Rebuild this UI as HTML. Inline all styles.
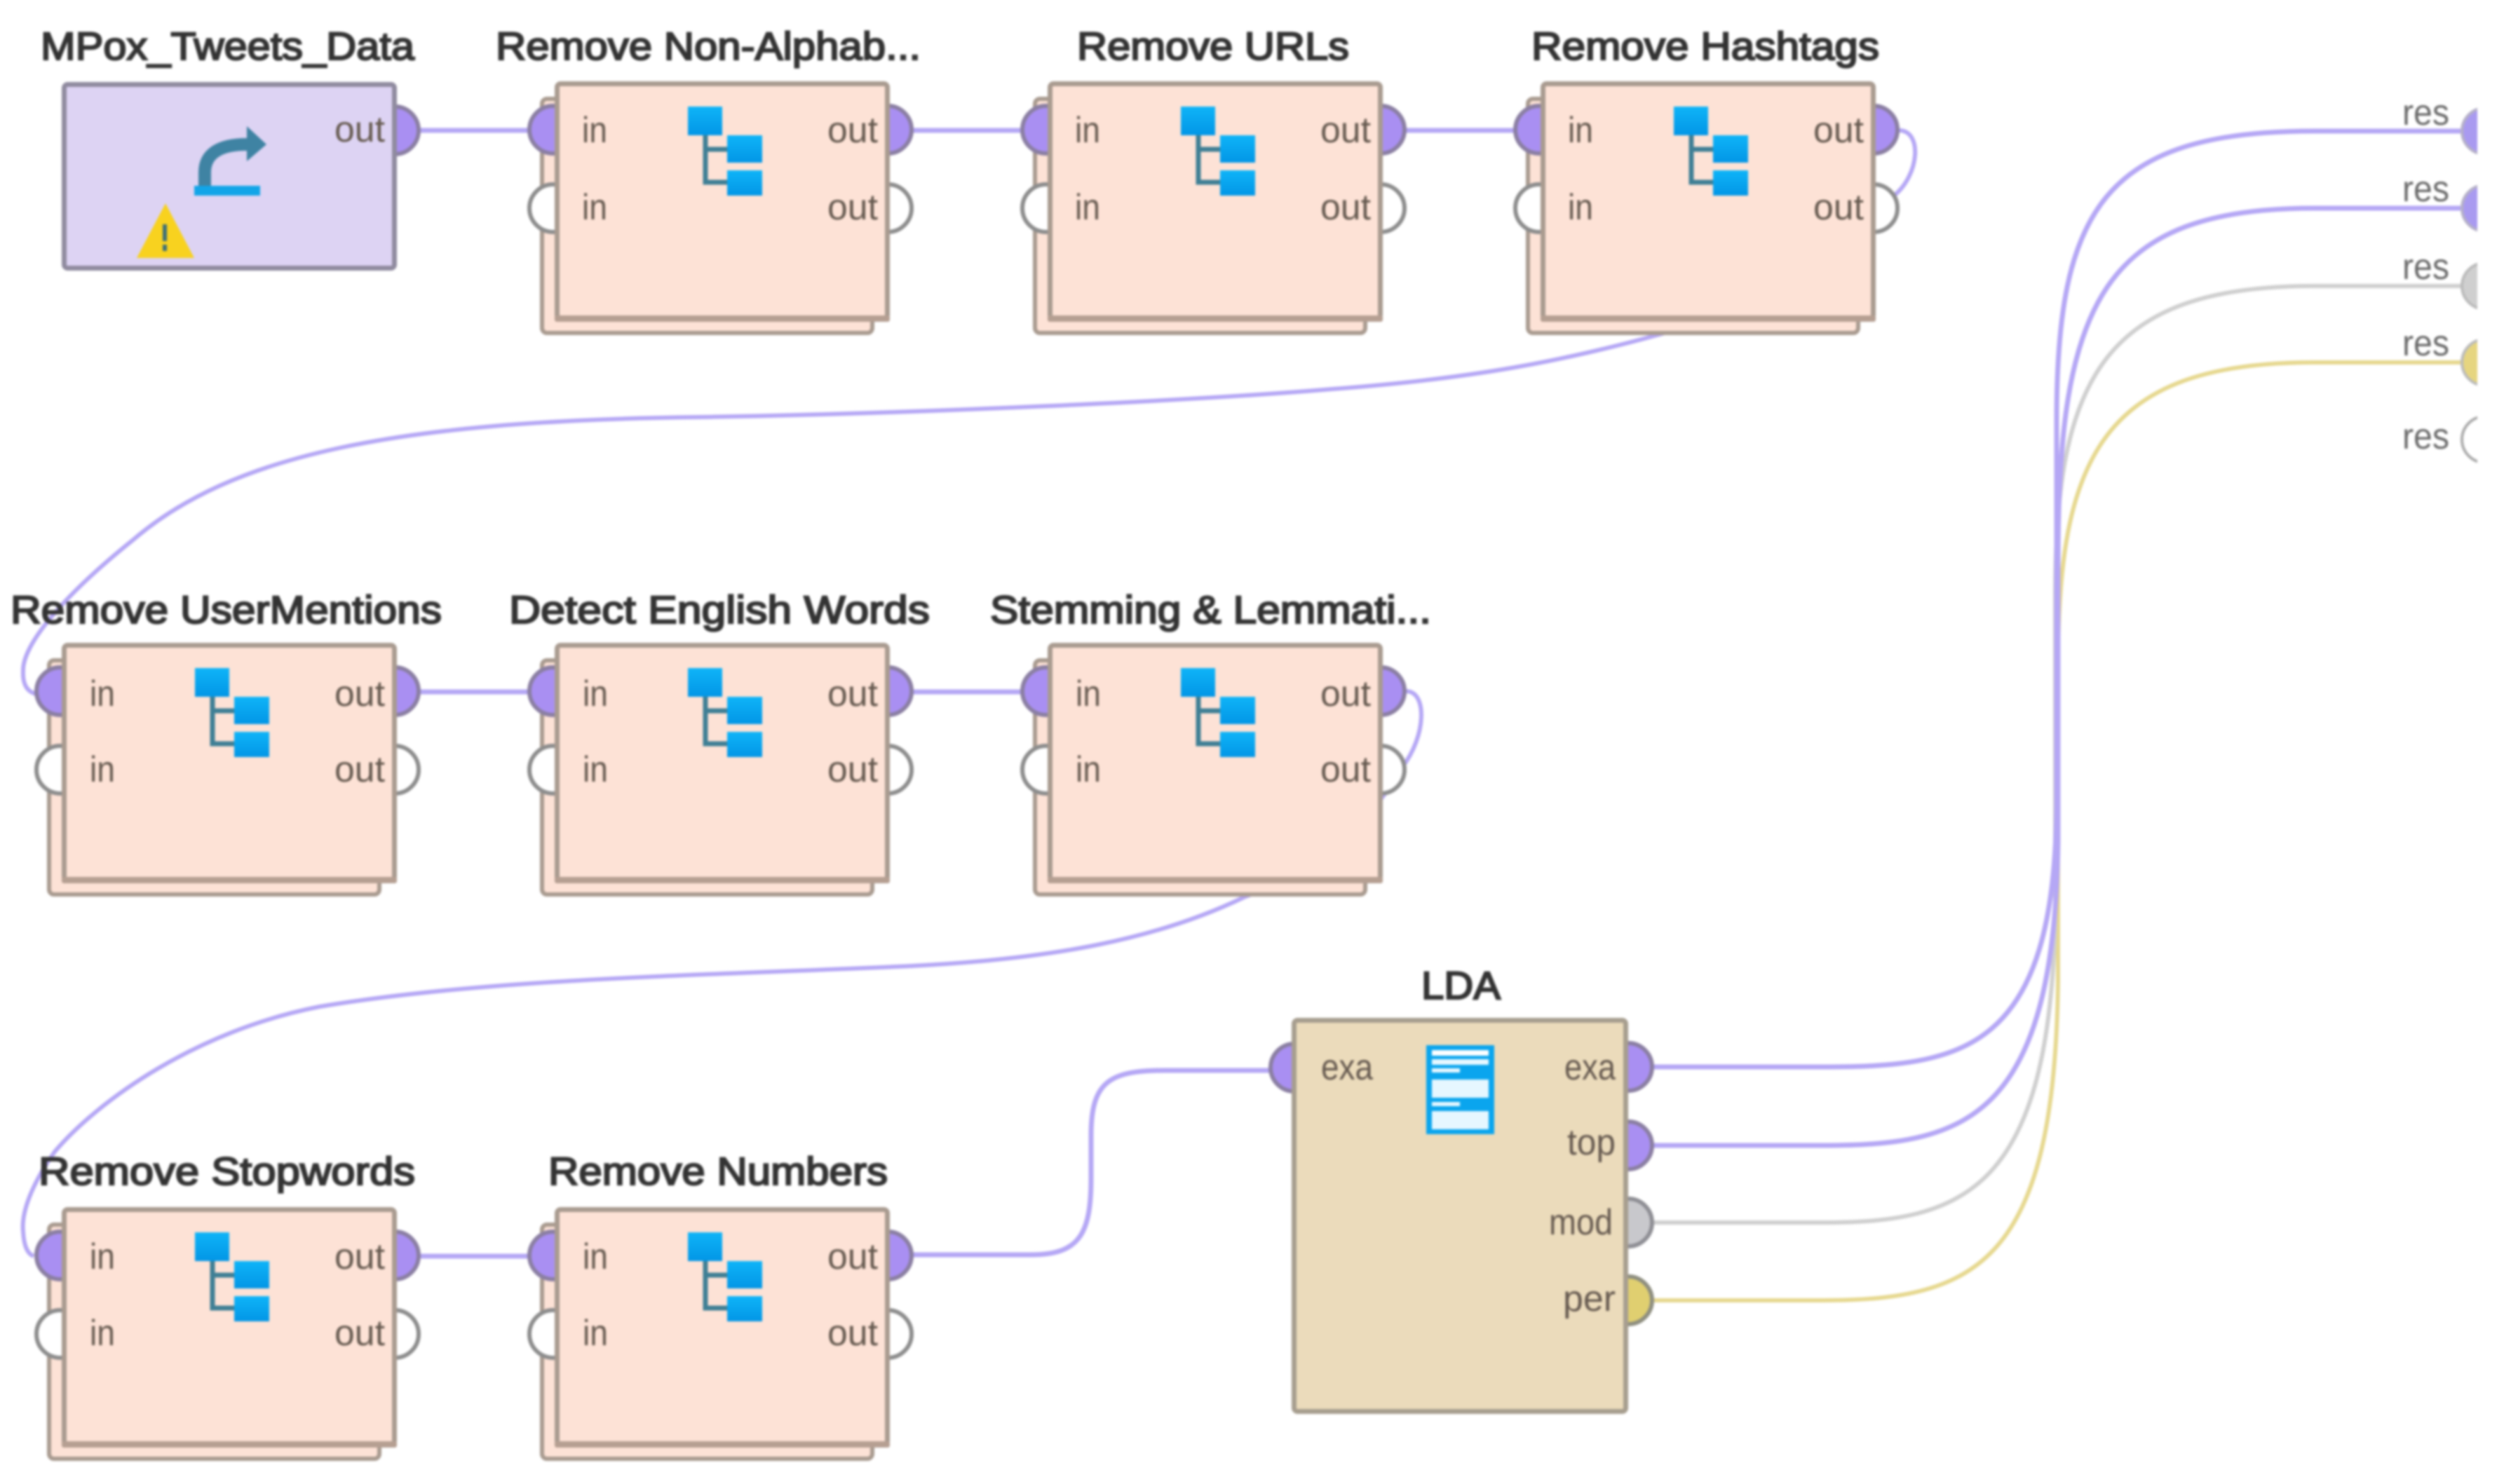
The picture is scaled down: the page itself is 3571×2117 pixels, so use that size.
<!DOCTYPE html>
<html lang="en">
<head>
<meta charset="utf-8">
<title>MPox Tweets LDA process</title>
<style>
html,body{margin:0;padding:0;background:#fff;width:3571px;height:2117px;overflow:hidden}
svg{display:block;filter:blur(1.5px)}
text{font-family:"Liberation Sans",sans-serif}
.t{font-size:56px;fill:#333;stroke:#333;stroke-width:2.3}
.l{font-size:52px;fill:#665a50}
.r{font-size:52px;fill:#6a6a6a}
.c{fill:none;stroke:#b5a7f5;stroke-width:7}
</style>
</head>
<body>
<svg xmlns="http://www.w3.org/2000/svg" width="3571" height="2117" viewBox="0 0 3571 2117">
<defs>
<linearGradient id="b" x1="0" y1="0" x2="0" y2="1"><stop offset="0" stop-color="#0fb4f8"/><stop offset="1" stop-color="#0296e6"/></linearGradient>
<g id="tree">
<path d="M215 70V144H252M215 97H252" fill="none" stroke="#3f7f95" stroke-width="7"/>
<rect x="190" y="36" width="49" height="41" fill="url(#b)"/>
<rect x="246" y="77" width="50" height="39" fill="url(#b)"/>
<rect x="246" y="127" width="50" height="36" fill="url(#b)"/>
</g>
<g id="op">
<rect x="-18" y="25" width="471" height="334" rx="7" fill="#fde2d6" stroke="#a99b90" stroke-width="6"/>
<circle cx="-2" cy="69" r="34" fill="#a98ff2" stroke="#8b7fa3" stroke-width="6"/>
<circle cx="-2" cy="181" r="34" fill="#fff" stroke="#8d8d8d" stroke-width="6"/>
<circle cx="475" cy="69" r="34" fill="#a98ff2" stroke="#8b7fa3" stroke-width="6"/>
<circle cx="475" cy="181" r="34" fill="#fff" stroke="#8d8d8d" stroke-width="6"/>
<rect x="3.5" y="3.5" width="471" height="335" rx="5" fill="#fde2d6" stroke="#a99b90" stroke-width="7"/>
<rect x="0" y="334" width="478" height="9" rx="3" fill="#b59f92"/>
<use href="#tree"/>
</g>
</defs>

<!-- connectors -->
<g class="cons">
<path class="c" d="M560 186H800"/>
<path class="c" d="M1264 186H1500"/>
<path class="c" d="M1968 186H2200"/>
<path class="c" style="stroke-width:6" d="M2708 186C2742 186 2738 250 2700 280C2650 360 2500 440 2367 477C2230 515 2100 540 1900 555C1700 572 1300 590 1000 595C560 600 330 650 190 770C90 850 32 920 33 957C32 975 38 987 52 990"/>
<path class="c" d="M560 987H800"/>
<path class="c" d="M1264 987H1500"/>
<path class="c" style="stroke-width:6" d="M2005 986C2036 986 2034 1050 2000 1094C1950 1180 1880 1240 1774 1280C1650 1340 1500 1368 1300 1378C1000 1392 700 1395 456 1436C280 1470 140 1570 78 1643C45 1690 30 1730 33 1757C34 1775 38 1788 48 1792"/>
<path class="c" d="M560 1792H800"/>
<path class="c" d="M1264 1790H1470C1540 1790 1556 1760 1556 1680V1620C1556 1545 1580 1527 1660 1527H1815"/>
<path class="c" style="stroke:#e6d88f;stroke-width:6" d="M2356 1855H2600C2820 1855 2930 1800 2935 1400V950C2935 650 3000 517 3300 517H3512"/>
<path class="c" style="stroke:#cfcfcf;stroke-width:6" d="M2356 1744H2600C2800 1744 2925 1700 2931 1300V850C2931 540 3000 408 3300 408H3512"/>
<path class="c" d="M2356 1634H2600C2800 1634 2930 1600 2935 1200V800C2935 430 3000 297 3300 297H3512"/>
<path class="c" d="M2356 1522H2600C2800 1522 2930 1500 2933 1150V600C2933 300 3000 187 3300 187H3512"/>
</g>

<!-- result ports -->
<g>
<circle cx="3544" cy="187" r="33" fill="#a99af0" stroke="#b5b0c8" stroke-width="4"/>
<circle cx="3544" cy="297" r="33" fill="#a99af0" stroke="#b5b0c8" stroke-width="4"/>
<circle cx="3544" cy="408" r="33" fill="#cfcfcf" stroke="#bbb" stroke-width="4"/>
<circle cx="3544" cy="517" r="33" fill="#e6d580" stroke="#bbb" stroke-width="4"/>
<circle cx="3544" cy="627" r="33" fill="#fff" stroke="#aaa" stroke-width="4"/>
<rect x="3533" y="100" width="38" height="600" fill="#fff"/>
<text class="r" x="3426" y="178" textLength="67" lengthAdjust="spacingAndGlyphs">res</text>
<text class="r" x="3426" y="287" textLength="67" lengthAdjust="spacingAndGlyphs">res</text>
<text class="r" x="3426" y="398" textLength="67" lengthAdjust="spacingAndGlyphs">res</text>
<text class="r" x="3426" y="507" textLength="67" lengthAdjust="spacingAndGlyphs">res</text>
<text class="r" x="3426" y="640" textLength="67" lengthAdjust="spacingAndGlyphs">res</text>
</g>

<!-- data node -->
<g>
<circle cx="563" cy="186" r="34" fill="#a98ff2" stroke="#8b7fa3" stroke-width="6"/>
<rect x="91.5" y="120.5" width="471" height="262" rx="5" fill="#ddd3f3" stroke="#908b9f" stroke-width="7"/>
<path d="M292 268V246C292 220 312 206 352 206" fill="none" stroke="#3f83a3" stroke-width="18"/>
<path d="M352 180L380 206L352 230Z" fill="#3f83a3"/>
<rect x="277" y="265" width="94" height="14" fill="#12a5e8"/>
<path d="M236 290L277 368H195Z" fill="#f8d21f"/>
<path d="M235 320V358" stroke="#3d6f78" stroke-width="6" stroke-dasharray="24 5 9 0"/>
<text class="l" x="477" y="202" textLength="72" lengthAdjust="spacingAndGlyphs">out</text>
<text class="t" x="58" y="85" textLength="533" lengthAdjust="spacingAndGlyphs">MPox_Tweets_Data</text>
</g>

<!-- row 1 -->
<g transform="translate(791,116)"><use href="#op"/>
<text class="l" x="39" y="87" textLength="36" lengthAdjust="spacingAndGlyphs">in</text><text class="l" x="39" y="197" textLength="36" lengthAdjust="spacingAndGlyphs">in</text>
<text class="l" x="389" y="87" textLength="72" lengthAdjust="spacingAndGlyphs">out</text><text class="l" x="389" y="197" textLength="72" lengthAdjust="spacingAndGlyphs">out</text></g>
<text class="t" x="707" y="85" textLength="606" lengthAdjust="spacingAndGlyphs">Remove Non-Alphab...</text>

<g transform="translate(1494,116)"><use href="#op"/>
<text class="l" x="39" y="87" textLength="36" lengthAdjust="spacingAndGlyphs">in</text><text class="l" x="39" y="197" textLength="36" lengthAdjust="spacingAndGlyphs">in</text>
<text class="l" x="389" y="87" textLength="72" lengthAdjust="spacingAndGlyphs">out</text><text class="l" x="389" y="197" textLength="72" lengthAdjust="spacingAndGlyphs">out</text></g>
<text class="t" x="1536" y="85" textLength="388" lengthAdjust="spacingAndGlyphs">Remove URLs</text>

<g transform="translate(2197,116)"><use href="#op"/>
<text class="l" x="39" y="87" textLength="36" lengthAdjust="spacingAndGlyphs">in</text><text class="l" x="39" y="197" textLength="36" lengthAdjust="spacingAndGlyphs">in</text>
<text class="l" x="389" y="87" textLength="72" lengthAdjust="spacingAndGlyphs">out</text><text class="l" x="389" y="197" textLength="72" lengthAdjust="spacingAndGlyphs">out</text></g>
<text class="t" x="2184" y="85" textLength="496" lengthAdjust="spacingAndGlyphs">Remove Hashtags</text>

<!-- row 2 -->
<g transform="translate(88,917)"><use href="#op"/>
<text class="l" x="40" y="90" textLength="36" lengthAdjust="spacingAndGlyphs">in</text><text class="l" x="40" y="198" textLength="36" lengthAdjust="spacingAndGlyphs">in</text>
<text class="l" x="389" y="90" textLength="72" lengthAdjust="spacingAndGlyphs">out</text><text class="l" x="389" y="198" textLength="72" lengthAdjust="spacingAndGlyphs">out</text></g>
<text class="t" x="15" y="889" textLength="615" lengthAdjust="spacingAndGlyphs">Remove UserMentions</text>

<g transform="translate(791,917)"><use href="#op"/>
<text class="l" x="40" y="90" textLength="36" lengthAdjust="spacingAndGlyphs">in</text><text class="l" x="40" y="198" textLength="36" lengthAdjust="spacingAndGlyphs">in</text>
<text class="l" x="389" y="90" textLength="72" lengthAdjust="spacingAndGlyphs">out</text><text class="l" x="389" y="198" textLength="72" lengthAdjust="spacingAndGlyphs">out</text></g>
<text class="t" x="726" y="889" textLength="600" lengthAdjust="spacingAndGlyphs">Detect English Words</text>

<g transform="translate(1494,917)"><use href="#op"/>
<text class="l" x="40" y="90" textLength="36" lengthAdjust="spacingAndGlyphs">in</text><text class="l" x="40" y="198" textLength="36" lengthAdjust="spacingAndGlyphs">in</text>
<text class="l" x="389" y="90" textLength="72" lengthAdjust="spacingAndGlyphs">out</text><text class="l" x="389" y="198" textLength="72" lengthAdjust="spacingAndGlyphs">out</text></g>
<text class="t" x="1412" y="889" textLength="629" lengthAdjust="spacingAndGlyphs">Stemming &amp; Lemmati...</text>

<!-- row 3 -->
<g transform="translate(88,1722)"><use href="#op"/>
<text class="l" x="40" y="88" textLength="36" lengthAdjust="spacingAndGlyphs">in</text><text class="l" x="40" y="197" textLength="36" lengthAdjust="spacingAndGlyphs">in</text>
<text class="l" x="389" y="88" textLength="72" lengthAdjust="spacingAndGlyphs">out</text><text class="l" x="389" y="197" textLength="72" lengthAdjust="spacingAndGlyphs">out</text></g>
<text class="t" x="55" y="1690" textLength="537" lengthAdjust="spacingAndGlyphs">Remove Stopwords</text>

<g transform="translate(791,1722)"><use href="#op"/>
<text class="l" x="40" y="88" textLength="36" lengthAdjust="spacingAndGlyphs">in</text><text class="l" x="40" y="197" textLength="36" lengthAdjust="spacingAndGlyphs">in</text>
<text class="l" x="389" y="88" textLength="72" lengthAdjust="spacingAndGlyphs">out</text><text class="l" x="389" y="197" textLength="72" lengthAdjust="spacingAndGlyphs">out</text></g>
<text class="t" x="782" y="1690" textLength="484" lengthAdjust="spacingAndGlyphs">Remove Numbers</text>

<!-- LDA -->
<g>
<circle cx="1846" cy="1523" r="34" fill="#a98ff2" stroke="#8b7fa3" stroke-width="6"/>
<circle cx="2322" cy="1522" r="34" fill="#a98ff2" stroke="#8b7fa3" stroke-width="6"/>
<circle cx="2322" cy="1634" r="34" fill="#a98ff2" stroke="#8b7fa3" stroke-width="6"/>
<circle cx="2322" cy="1744" r="34" fill="#c8c8cc" stroke="#8f8f95" stroke-width="6"/>
<circle cx="2322" cy="1855" r="34" fill="#e0cf70" stroke="#8f8f80" stroke-width="6"/>
<rect x="1845.5" y="1455.5" width="473" height="558" rx="5" fill="#ebdbbb" stroke="#a79e8f" stroke-width="7"/>
<rect x="2034" y="1491" width="97" height="127" fill="#0aa5ee"/>
<rect x="2042" y="1498" width="81" height="8" fill="#fff"/>
<rect x="2042" y="1511" width="81" height="8" fill="#e8f8ff"/>
<rect x="2042" y="1524" width="40" height="6" fill="#e8f8ff"/>
<rect x="2042" y="1540" width="81" height="26" fill="#e6f7ff"/>
<rect x="2042" y="1572" width="40" height="6" fill="#e8f8ff"/>
<rect x="2042" y="1585" width="81" height="26" fill="#e6f7ff"/>
<text class="l" x="1884" y="1540" textLength="74" lengthAdjust="spacingAndGlyphs">exa</text>
<text class="l" x="2231" y="1540" textLength="73" lengthAdjust="spacingAndGlyphs">exa</text>
<text class="l" x="2235" y="1647" textLength="69" lengthAdjust="spacingAndGlyphs">top</text>
<text class="l" x="2209" y="1761" textLength="91" lengthAdjust="spacingAndGlyphs">mod</text>
<text class="l" x="2229" y="1870" textLength="75" lengthAdjust="spacingAndGlyphs">per</text>
<text class="t" x="2027" y="1425" textLength="113" lengthAdjust="spacingAndGlyphs">LDA</text>
</g>
</svg>
</body>
</html>
